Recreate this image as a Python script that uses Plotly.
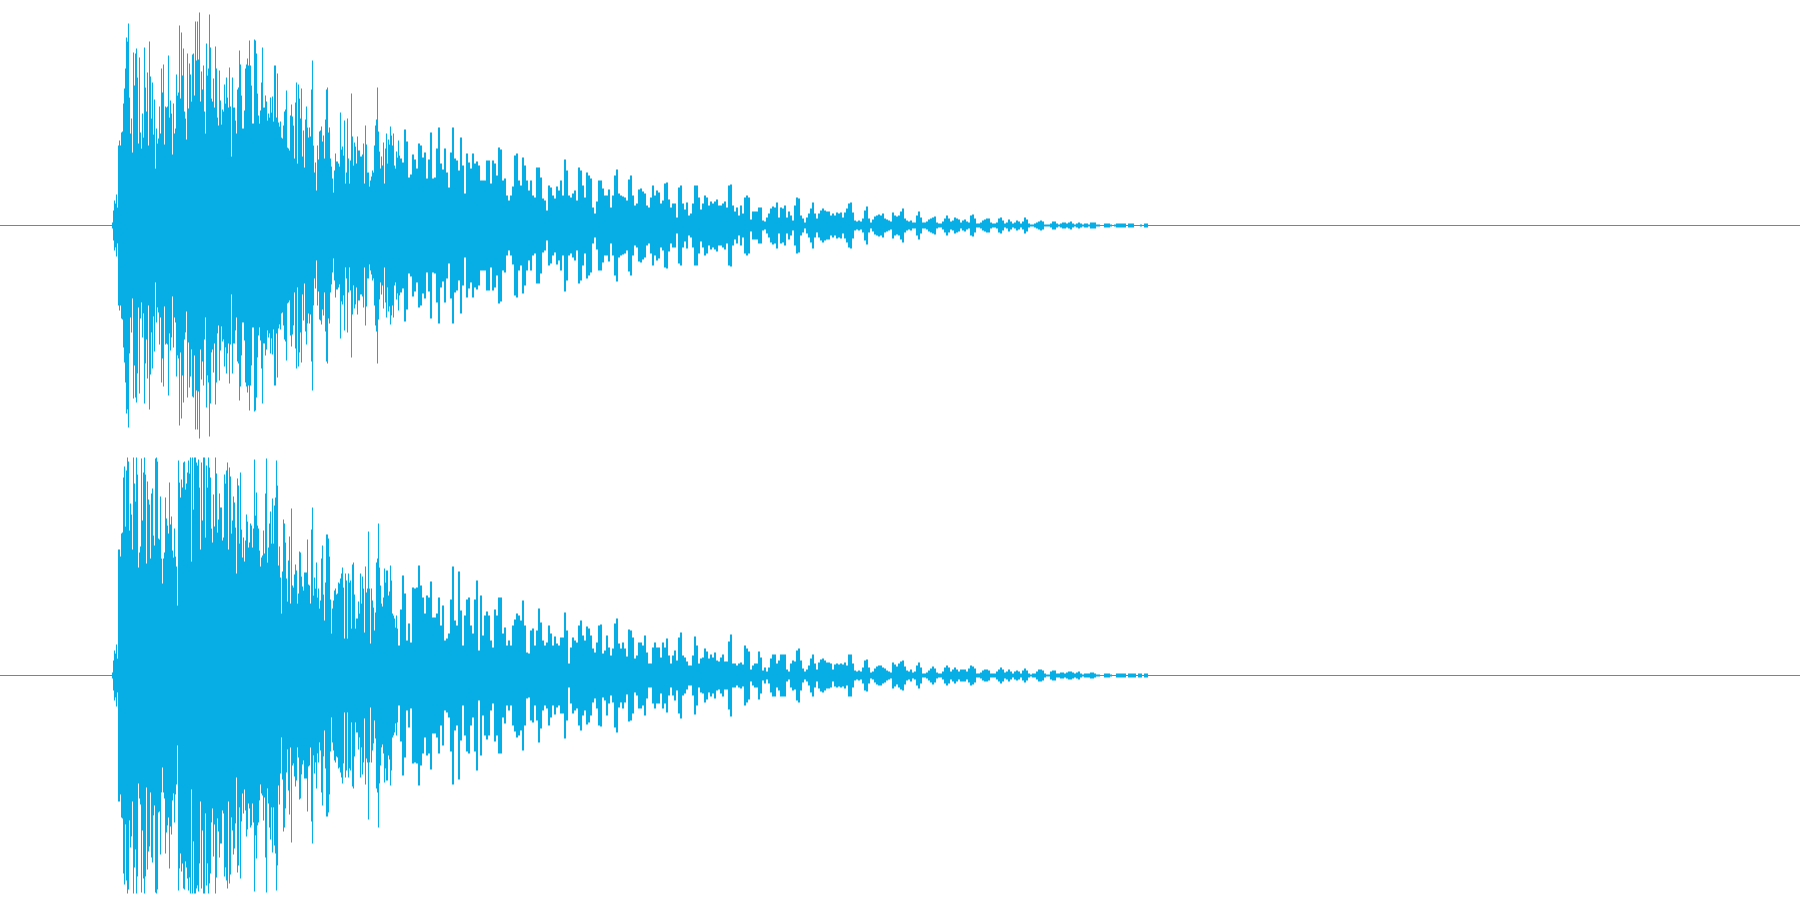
import plotly.graph_objects as go
from plotly.subplots import make_subplots

# Peak level per screen column (the waveform is symmetric about zero), full scale = 225
left_attack = [3,15,25,22,31,18,80,85,80,93,94,122,137,157,188,184,202,128,92,107,73,173,140,172,177,148,82,168,93,77,112,88,178,138,114,153,80,184,149,107,143,91,126,57,97,82,87,119,92,157,133,161,81,119,118,119,170,108,125,112,71,122,92,97,151,130,133,200,127,193,150,177,114,107,86,172,117,162,151,124,171,172,130,204,165,204,166,213,124,154,136,160,114,92,182,150,157,211,178,127,124,147,118,179,157,108,100,155,125,101,116,114,141,122,148,128,118,158,119,69,148,118,118,105,92,136,138,175,161,130,97,97,115,157,161,167,160,185,160,140,102,102,186,185,172,132,110,102,115,143,178,118,118,130,124,105,112,108,128,113,129,104,160,160,108,152,103,99,104,88,87,100,114,116,135,78,77,75,110,121,109,100,67,123,143,62,141,127,107,137,69,95,58,106,119,98,88,98,89,136,165,80,53,63,35,80,66,94,95,99,84,90,67,106,136,138,93,98,67,59,47,33,55,72,64,64,62,59,113,76,79,70,105,42,53,107,67,42,65,132,89,60,83,79,62,89,75,75,69,69,71,82,42,100,81,53,53,39,45,49,55,53,80,100,106,138,94,74,57,69,60,83,42,77,92,62,86,81,99,90,80,92,60,57,74,68,85,70]
left_decay = [67,63,96,84,48,51,71,66,57,82,80,68,73,47,66,93,47,48,77,98,62,56,77,53,38,73,98,67,65,55,88,60,32,72,63,57,72,62,64,60,45,45,45,65,65,42,65,62,50,78,76,45,47,30,25,30,39,70,72,45,40,68,60,45,35,45,30,28,58,58,48,27,25,15,40,38,30,27,39,35,45,30,66,55,30,28,32,35,25,58,55,40,28,53,50,47,18,12,24,45,45,37,30,30,36,18,30,50,56,32,30,29,28,25,46,50,30,20,22,36,37,34,32,20,18,28,40,30,35,33,22,25,42,43,26,18,22,22,8,38,40,22,16,23,10,12,22,40,40,28,16,22,30,28,20,24,22,24,26,20,20,22,24,18,40,41,20,14,18,10,20,12,28,30,28,6,14,14,14,18,18,5,4,8,12,17,19,18,23,8,18,17,20,8,14,10,5,20,28,27]
left_tail = [10,7,3,8,12,17,23,12,7,12,15,17,15,14,14,10,12,10,13,12,13,8,13,17,22,23,13,5,4,5,4,7,15,19,7,3,6,9,10,11,10,12,7,6,5,4,13,10,9,10,14,17,7,5,4,5,3,3,10,14,8,3,3,4,6,7,8,9,3,2,2,4,7,10,7,4,5,8,7,6,3,5,6,4,3,10,11,7,2,2,3,5,6,7,7,3,2,2,3,7,8,5,2,3,6,4,2,3,5,4,2,4,8,6,2,1,1,2,3,4,5,4,1,1,1,2,4,4,2,1,2,3,3,2,3,4,2,1,2,3,2,1,2,2,1,3,3,3,1,1,0,0,2,2,2,1,0,1,2,2,2,2,2,0,2,2,2,0,0,0,1,0,2,2]

right_attack = [3,15,25,22,31,17,126,126,119,142,143,198,209,149,205,218,214,145,172,161,126,218,192,174,218,201,108,123,129,217,155,203,218,201,112,194,176,171,117,182,187,140,130,217,218,214,137,136,179,117,92,117,123,178,157,150,142,193,151,159,125,118,147,119,109,70,215,193,178,196,188,213,214,186,192,203,215,202,218,114,218,166,218,218,213,210,216,188,126,213,155,218,218,138,210,188,218,208,198,147,133,181,149,218,202,143,156,182,168,168,135,138,201,192,205,213,126,208,199,142,155,179,173,148,102,197,190,132,203,146,118,138,114,135,161,154,128,133,152,150,128,147,216,160,183,150,147,125,109,118,120,145,122,182,217,113,128,152,164,132,177,132,170,178,215,190,110,129,98,62,104,156,152,133,97,74,115,139,72,167,90,88,101,111,105,72,82,124,123,99,89,85,103,103,103,136,91,90,72,146,168,80,98,87,113,78,87,67,75,117,130,81,55,93,141,141,137,119,76,42,67,75,85,87,81,82,93,92,97,102,108,88,37,102,95,37,102,93,95,47,111,113,81,47,57,57,74,62,102,72,99,87,43,109,83,87,144,87,32,87,75,68,45,63,113,117,152,108,90,72,69,78,107,93,105,105,80,84,110,95,62,60,57,48,60,47,30,30]
right_decay = [66,100,82,35,52,33,88,87,88,110,90,78,62,80,78,94,58,58,62,78,50,70,35,37,42,76,109,55,50,104,65,30,60,76,78,50,42,76,95,25,80,40,60,64,60,35,28,66,60,78,78,42,48,30,35,30,50,56,62,60,55,75,50,23,22,45,47,30,45,67,53,35,30,33,50,42,30,39,32,30,38,38,63,45,12,28,38,35,33,50,55,40,35,49,47,40,27,23,33,50,51,22,25,40,28,20,27,52,57,32,27,33,27,19,46,45,38,17,20,33,33,30,40,23,12,12,28,33,28,28,18,33,28,37,20,12,20,25,15,38,43,20,18,14,10,10,20,39,30,12,17,18,27,24,17,21,18,23,15,14,18,21,14,14,34,41,12,12,10,12,13,11,30,27,24,6,10,12,12,24,18,5,8,4,8,17,21,21,12,15,21,21,21,6,4,12,15,14,25,27]
right_tail = [15,7,4,6,10,17,21,12,6,13,16,17,15,13,13,12,6,11,12,11,12,11,13,10,21,21,12,5,4,5,4,8,15,16,8,3,4,7,9,10,10,8,7,5,4,3,13,11,9,12,14,15,9,5,4,6,3,4,10,13,8,2,2,3,5,7,9,7,3,2,2,4,8,10,8,4,6,8,6,4,6,6,6,4,7,10,9,7,2,2,3,5,6,6,5,2,2,2,4,6,8,6,3,4,6,4,2,4,5,4,2,5,7,5,2,1,2,2,4,6,6,5,2,1,1,4,5,5,2,2,3,3,2,3,4,4,3,2,3,4,2,1,2,2,2,3,3,2,1,1,0,0,2,2,2,1,0,0,2,2,2,2,2,0,2,2,2,2,0,2,2,0,2,2]

ATTACK_START, DECAY_START, TAIL_START = 112, 400, 800
DECAY_STEP, TAIL_STEP = 2, 2
COLOR = "#06AEE5"


def columns(attack, decay, tail):
    x = [ATTACK_START + i for i in range(len(attack))]
    x += [DECAY_START + i * DECAY_STEP for i in range(len(decay))]
    x += [TAIL_START + i * TAIL_STEP for i in range(len(tail))]
    w = [1] * len(attack) + [DECAY_STEP] * len(decay) + [TAIL_STEP] * len(tail)
    return x, w, attack + decay + tail


fig = make_subplots(rows=2, cols=1, vertical_spacing=0)
channels = [(left_attack, left_decay, left_tail), (right_attack, right_decay, right_tail)]
for row, parts in enumerate(channels, start=1):
    x, w, amp = columns(*parts)
    fig.add_trace(go.Scatter(x=[0, 1800], y=[0, 0], mode="lines",
                             line=dict(color=COLOR, width=1)), row=row, col=1)
    fig.add_trace(go.Bar(x=x, y=[2 * a for a in amp], base=[-a for a in amp],
                         width=w, offset=0, marker=dict(color=COLOR, line=dict(width=0))),
                  row=row, col=1)
    fig.update_xaxes(range=[0, 1800], visible=False, row=row, col=1)
    fig.update_yaxes(range=[-224.5, 225.5], visible=False, row=row, col=1)

fig.update_layout(width=1800, height=900, margin=dict(l=0, r=0, t=0, b=0),
                  showlegend=False, paper_bgcolor="white", plot_bgcolor="white",
                  barmode="overlay", hovermode=False)
fig.write_html("out.html", config={"displayModeBar": False},
               post_script="document.body.style.margin='0';document.documentElement.style.overflow='hidden';")
